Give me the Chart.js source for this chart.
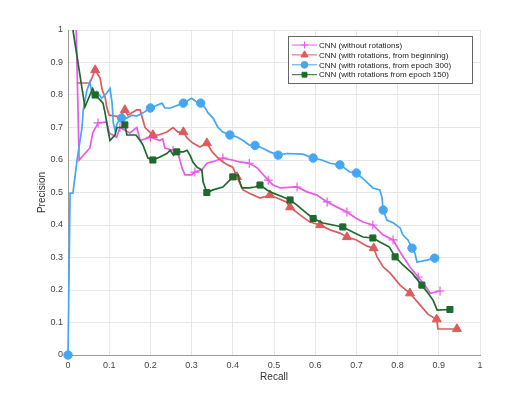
<!DOCTYPE html>
<html>
<head>
<meta charset="utf-8">
<script src="https://cdn.jsdelivr.net/npm/chart.js@4.4.1/dist/chart.umd.min.js"></script>
<style>
  html, body { margin: 0; padding: 0; background: #fff; }
  canvas { display: block; }
</style>
</head>
<body>
<canvas id="pr" width="531" height="399"></canvas>
<script>
// series labels
const seriesNames = [
    'CNN (without rotations)',
    'CNN (with rotations, from beginning)',
    'CNN (with rotations, from epoch 300)',
    'CNN (with rotations from epoch 150)'
];

// CNN without rotations
const noRotRecall = [0.02, 0.027, 0.053, 0.06, 0.073, 0.094, 0.10, 0.118, 0.126, 0.15, 0.167, 0.175, 0.2, 0.223, 0.23, 0.235,
    0.255, 0.265, 0.277, 0.284, 0.30, 0.308, 0.325, 0.337, 0.35, 0.376, 0.398, 0.417, 0.44, 0.46, 0.47, 0.486, 0.498, 0.515,
    0.556, 0.58, 0.604, 0.629, 0.653, 0.677, 0.70, 0.716, 0.74, 0.765, 0.789, 0.806, 0.83, 0.85, 0.871, 0.879, 0.903];
const noRotPrecision = [1.0, 0.60, 0.637, 0.683, 0.714, 0.717, 0.683, 0.67, 0.70, 0.683, 0.70, 0.66, 0.67, 0.66, 0.665, 0.637,
    0.63, 0.63, 0.575, 0.554, 0.554, 0.563, 0.57, 0.59, 0.594, 0.606, 0.60, 0.594, 0.59, 0.575, 0.56, 0.538, 0.523, 0.514,
    0.517, 0.502, 0.492, 0.471, 0.455, 0.44, 0.42, 0.409, 0.40, 0.369, 0.354, 0.317, 0.271, 0.24, 0.206, 0.19, 0.197];

// CNN with rotations, from beginning
const fromStartRecall = [0.022, 0.053, 0.066, 0.078, 0.083, 0.09, 0.094, 0.10, 0.126, 0.138, 0.145, 0.167, 0.175, 0.187, 0.206,
    0.22, 0.24, 0.255, 0.267, 0.28, 0.289, 0.303, 0.32, 0.337, 0.35, 0.362, 0.376, 0.388, 0.40, 0.41, 0.417, 0.425, 0.44, 0.466,
    0.49, 0.507, 0.53, 0.539, 0.563, 0.587, 0.612, 0.636, 0.66, 0.677, 0.70, 0.726, 0.742, 0.75, 0.765, 0.782, 0.806, 0.83,
    0.847, 0.874, 0.895, 0.898, 0.944];
const fromStartPrecision = [0.837, 0.837, 0.877, 0.852, 0.815, 0.794, 0.763, 0.738, 0.733, 0.754, 0.738, 0.754, 0.754, 0.70, 0.677,
    0.677, 0.686, 0.70, 0.686, 0.686, 0.668, 0.652, 0.64, 0.652, 0.625, 0.609, 0.594, 0.585, 0.578, 0.548, 0.529, 0.508, 0.498, 0.483,
    0.492, 0.483, 0.471, 0.455, 0.431, 0.409, 0.40, 0.385, 0.375, 0.363, 0.354, 0.335, 0.329, 0.302, 0.271, 0.252, 0.215, 0.19,
    0.165, 0.125, 0.11, 0.08, 0.08];

// CNN with rotations, from epoch 300
const ep300Recall = [0, 0.005, 0.012, 0.022, 0.034, 0.037, 0.046, 0.053, 0.06, 0.07, 0.082, 0.094, 0.102, 0.107, 0.11, 0.114,
    0.12, 0.13, 0.142, 0.155, 0.167, 0.182, 0.2, 0.206, 0.228, 0.235, 0.248, 0.255, 0.28, 0.30, 0.313, 0.322, 0.333, 0.34, 0.352,
    0.364, 0.376, 0.393, 0.41, 0.425, 0.44, 0.454, 0.466, 0.49, 0.51, 0.53, 0.57, 0.595, 0.616, 0.636, 0.66, 0.684, 0.70, 0.72,
    0.74, 0.757, 0.762, 0.765, 0.774, 0.79, 0.806, 0.813, 0.825, 0.835, 0.842, 0.847, 0.871, 0.89];
const ep300Precision = [0, 0.498, 0.498, 0.60, 0.70, 0.754, 0.815, 0.84, 0.794, 0.81, 0.79, 0.806, 0.82, 0.775, 0.714, 0.692,
    0.714, 0.729, 0.729, 0.738, 0.735, 0.745, 0.76, 0.763, 0.775, 0.76, 0.76, 0.763, 0.775, 0.79, 0.778, 0.775, 0.76, 0.745, 0.729,
    0.70, 0.686, 0.677, 0.671, 0.66, 0.646, 0.645, 0.64, 0.625, 0.615, 0.62, 0.618, 0.606, 0.60, 0.59, 0.585, 0.563, 0.56, 0.538,
    0.514, 0.508, 0.486, 0.446, 0.415, 0.406, 0.391, 0.369, 0.354, 0.329, 0.314, 0.286, 0.292, 0.298];

// CNN with rotations from epoch 150
const ep150Recall = [0.012, 0.041, 0.06, 0.066, 0.078, 0.085, 0.09, 0.097, 0.102, 0.114, 0.119, 0.13, 0.138, 0.143, 0.165, 0.175,
    0.182, 0.194, 0.206, 0.223, 0.24, 0.248, 0.256, 0.264, 0.28, 0.289, 0.296, 0.303, 0.313, 0.325, 0.328, 0.337, 0.352, 0.376,
    0.40, 0.413, 0.417, 0.422, 0.44, 0.454, 0.466, 0.483, 0.498, 0.522, 0.539, 0.556, 0.57, 0.595, 0.619, 0.643, 0.667, 0.692,
    0.716, 0.74, 0.757, 0.78, 0.794, 0.813, 0.835, 0.859, 0.874, 0.886, 0.896, 0.927];
const ep150Precision = [1.0, 0.763, 0.82, 0.80, 0.785, 0.775, 0.745, 0.692, 0.66, 0.677, 0.70, 0.70, 0.708, 0.677, 0.677, 0.66,
    0.646, 0.606, 0.60, 0.609, 0.62, 0.63, 0.615, 0.625, 0.625, 0.63, 0.615, 0.594, 0.578, 0.569, 0.532, 0.50, 0.508, 0.517,
    0.548, 0.554, 0.532, 0.514, 0.514, 0.517, 0.523, 0.508, 0.498, 0.486, 0.477, 0.461, 0.446, 0.42, 0.406, 0.40, 0.394, 0.378,
    0.363, 0.36, 0.348, 0.332, 0.302, 0.277, 0.252, 0.215, 0.19, 0.169, 0.138, 0.14];

const xTicks = [0, 0.1, 0.2, 0.3, 0.4, 0.5, 0.6, 0.7, 0.8, 0.9, 1];
const yTicks = [0, 0.1, 0.2, 0.3, 0.4, 0.5, 0.6, 0.7, 0.8, 0.9, 1];

const FONT = '"Liberation Sans", Arial, Helvetica, sans-serif';

// markers every so often along recall, like matlab MarkerIndices
function markerIdx(xs, start, step, withFirst) {
    const s = new Set();
    if (withFirst) s.add(0);
    let t = start;
    xs.forEach((x, i) => {
        if (x >= t - 1e-9) {
            s.add(i);
            while (t <= x + 1e-9) t += step;
        }
    });
    s.add(xs.length - 1);
    return s;
}

function makeSet(label, xs, ys, color, style, radius, marks, order) {
    return {
        label: label,
        data: xs.map((x, i) => ({ x: x, y: ys[i] })),
        borderColor: color,
        backgroundColor: color,
        borderWidth: 1.7,
        showLine: true,
        tension: 0,
        clip: false,
        order: order,
        pointStyle: style,
        pointRadius: ctx => marks.has(ctx.dataIndex) ? radius : 0,
        pointHoverRadius: ctx => marks.has(ctx.dataIndex) ? radius : 0,
        pointBorderWidth: style === 'cross' ? 1.2 : 1,
        pointBorderColor: color,
        pointBackgroundColor: color
    };
}

const colors = ['#e85ae8', '#dc5c5c', '#45a6f3', '#1d6a2c'];
const styles = ['cross', 'triangle', 'circle', 'rect'];
const radii = [4.5, 5.2, 4.2, 4.3];

const datasets = [
    makeSet(seriesNames[0], noRotRecall, noRotPrecision, colors[0], styles[0], radii[0],
        markerIdx(noRotRecall, 0.066, 0.0598, false), 3),
    makeSet(seriesNames[1], fromStartRecall, fromStartPrecision, colors[1], styles[1], radii[1],
        markerIdx(fromStartRecall, 0.066, 0.0675, false), 2),
    makeSet(seriesNames[2], ep300Recall, ep300Precision, colors[2], styles[2], radii[2],
        markerIdx(ep300Recall, 0.13, 0.0633, true), 1),
    makeSet(seriesNames[3], ep150Recall, ep150Precision, colors[3], styles[3], radii[3],
        markerIdx(ep150Recall, 0.066, 0.066, false), 0)
];

// boxed legend in the top right corner, line + marker sample
const boxLegend = {
    id: 'boxLegend',
    afterDraw(chart) {
        const c = chart.ctx;
        const bx = 288, by = 36, bw = 184, bh = 47;
        c.save();
        c.fillStyle = '#fff';
        c.fillRect(bx, by, bw, bh);
        c.strokeStyle = '#666';
        c.lineWidth = 1;
        c.strokeRect(bx + 0.5, by + 0.5, bw, bh);
        c.font = '8px ' + FONT;
        c.textBaseline = 'middle';
        seriesNames.forEach((name, i) => {
            const y = 45 + i * 9.9;
            c.strokeStyle = colors[i];
            c.lineWidth = 1;
            c.beginPath();
            c.moveTo(292, y);
            c.lineTo(317, y);
            c.stroke();
            c.fillStyle = colors[i];
            Chart.helpers.drawPoint(c, {
                pointStyle: styles[i],
                radius: radii[i] * 0.8,
                rotation: 0,
                borderWidth: 1
            }, 304.5, y);
            c.fillStyle = '#222';
            c.fillText(name, 319, y + 0.5);
        });
        c.restore();
    }
};

new Chart(document.getElementById('pr'), {
    type: 'scatter',
    data: { datasets: datasets },
    options: {
        responsive: false,
        animation: false,
        events: [],
        layout: { padding: { left: 30, right: 51, top: 30, bottom: 12 } },
        plugins: {
            legend: { display: false },
            tooltip: { enabled: false }
        },
        scales: {
            x: {
                type: 'linear',
                min: 0,
                max: 1,
                afterBuildTicks: s => { s.ticks = xTicks.map(v => ({ value: v })); },
                afterFit: s => { s.height = 32; },
                ticks: {
                    padding: 5,
                    color: '#444',
                    font: { family: FONT, size: 9 },
                    maxRotation: 0,
                    callback: v => String(+v.toFixed(1))
                },
                grid: { color: '#e6e6e6', lineWidth: 1, drawTicks: false },
                border: { color: '#9a9a9a', width: 1 },
                title: {
                    display: true,
                    text: 'Recall',
                    color: '#333',
                    font: { family: FONT, size: 10 },
                    padding: { top: 0, bottom: 4 }
                }
            },
            y: {
                type: 'linear',
                min: 0,
                max: 1,
                afterBuildTicks: s => { s.ticks = yTicks.map(v => ({ value: v })); },
                afterFit: s => { s.width = 38; },
                ticks: {
                    padding: 5,
                    color: '#444',
                    font: { family: FONT, size: 9 },
                    callback: v => String(+v.toFixed(1))
                },
                grid: { color: '#e6e6e6', lineWidth: 1, drawTicks: false },
                border: { color: '#9a9a9a', width: 1 },
                title: {
                    display: true,
                    text: 'Precision',
                    color: '#333',
                    font: { family: FONT, size: 10 },
                    padding: { top: 6, bottom: 0 }
                }
            }
        }
    },
    plugins: [boxLegend]
});
</script>
</body>
</html>
